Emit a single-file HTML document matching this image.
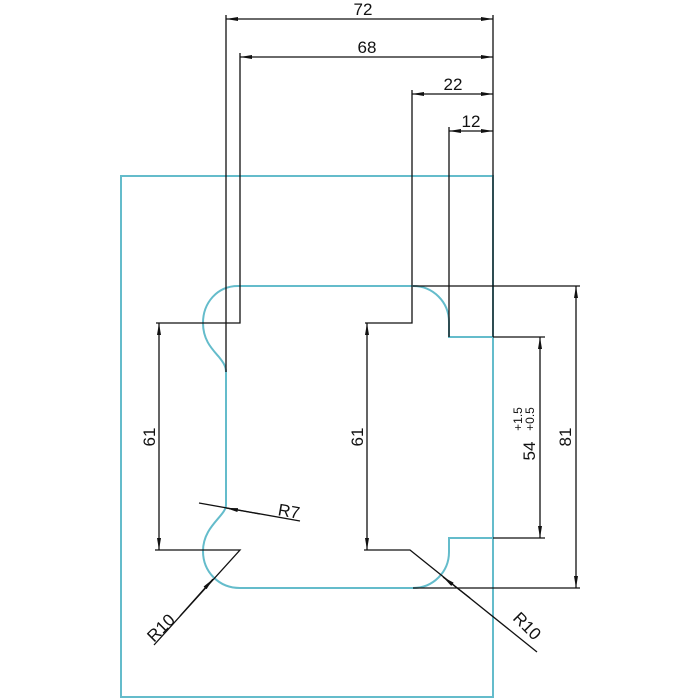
<!DOCTYPE html>
<html><head><meta charset="utf-8"><style>
html,body{margin:0;padding:0;background:#fff;width:700px;height:700px;overflow:hidden}
text{font-family:"Liberation Sans",sans-serif;fill:#111}
</style></head><body>
<svg width="700" height="700" viewBox="0 0 700 700" xmlns="http://www.w3.org/2000/svg">
<defs>
<marker id="a" viewBox="0 0 12 4" refX="12" refY="2" markerWidth="12" markerHeight="4" markerUnits="userSpaceOnUse" orient="auto-start-reverse"><path d="M0,0 L12,2 L0,4 Z" fill="#111"/></marker>
</defs>
<g fill="none" stroke="#64bccb" stroke-width="2">
<rect x="121" y="176" width="372" height="521"/>
<path d="M238,286 C217,286 203,303 203,323 C203,340 212,349 219,357 C223,362 226,366 226,372 L226,505 C226,516 203,526 203,551 C203,572 219,588 240,588 L413,588 C433,588 449,572 449,552 L449,538 L493,538"/>
<path d="M238,286 L413,286 C433,286 449,302 449,322 L449,337 L493,337"/>
</g>
<g fill="none" stroke="#111" stroke-width="1.3">
<line x1="226" y1="19" x2="493" y2="19" marker-start="url(#a)" marker-end="url(#a)"/>
<line x1="240" y1="57" x2="493" y2="57" marker-start="url(#a)" marker-end="url(#a)"/>
<line x1="412" y1="94" x2="493" y2="94" marker-start="url(#a)" marker-end="url(#a)"/>
<line x1="449" y1="131" x2="493" y2="131" marker-start="url(#a)" marker-end="url(#a)"/>
<line x1="226" y1="15" x2="226" y2="372"/>
<polyline points="240,53 240,323 156,323"/>
<polyline points="412,90 412,323 365,323"/>
<line x1="449" y1="127" x2="449" y2="337"/>
<line x1="493" y1="15" x2="493" y2="337"/>
<line x1="159" y1="323" x2="159" y2="550" marker-start="url(#a)" marker-end="url(#a)"/>
<polyline points="155,550 240,550 154,645"/>
<line x1="367" y1="323" x2="367" y2="550" marker-start="url(#a)" marker-end="url(#a)"/>
<polyline points="364,550 410,550 537,652"/>
<line x1="540" y1="337" x2="540" y2="538" marker-start="url(#a)" marker-end="url(#a)"/>
<line x1="493" y1="337" x2="545" y2="337"/>
<line x1="493" y1="538" x2="545" y2="538"/>
<line x1="576" y1="286" x2="576" y2="588" marker-start="url(#a)" marker-end="url(#a)"/>
<line x1="413" y1="286" x2="580" y2="286"/>
<line x1="413" y1="588" x2="580" y2="588"/>
<line x1="199" y1="503" x2="300" y2="521"/>
<line x1="260" y1="514" x2="226" y2="508" marker-end="url(#a)"/>
<line x1="180" y1="616" x2="213" y2="579" marker-end="url(#a)"/>
<line x1="470" y1="598" x2="443" y2="577" marker-end="url(#a)"/>
</g>
<g font-size="17">
<text x="363" y="15" text-anchor="middle">72</text>
<text x="367" y="53" text-anchor="middle">68</text>
<text x="453" y="90" text-anchor="middle">22</text>
<text x="471" y="127" text-anchor="middle">12</text>
<text transform="translate(155,437) rotate(-90)" text-anchor="middle">61</text>
<text transform="translate(363,437) rotate(-90)" text-anchor="middle">61</text>
<text transform="translate(571,437) rotate(-90)" text-anchor="middle">81</text>
<text transform="translate(535,451) rotate(-90)" text-anchor="middle">54</text>
<text transform="translate(522,419) rotate(-90)" text-anchor="middle" font-size="12">+1.5</text>
<text transform="translate(534,419) rotate(-90)" text-anchor="middle" font-size="12">+0.5</text>
<text transform="translate(288,517) rotate(10)" text-anchor="middle">R7</text>
<text transform="translate(165,632) rotate(-45)" text-anchor="middle">R10</text>
<text transform="translate(523,630) rotate(45)" text-anchor="middle">R10</text>
</g>
</svg>
</body></html>
